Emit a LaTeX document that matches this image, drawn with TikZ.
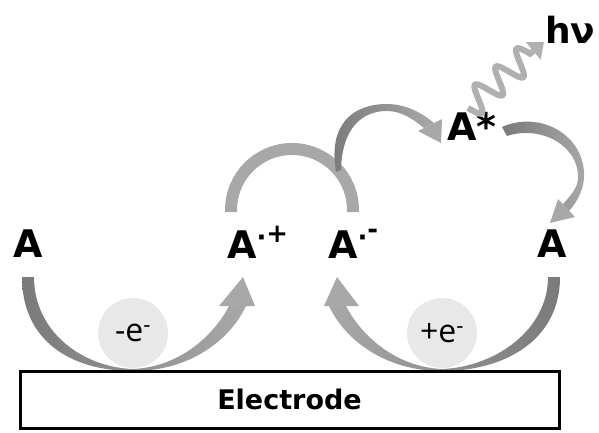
\documentclass[tikz,border=0pt]{standalone}
\usepackage{fontspec}
\setmainfont{DejaVu Sans}
\newfontfamily\chargefont{Open Sans}
\usetikzlibrary{arrows.meta,shadows}
\definecolor{darkflow}{HTML}{7A7A7A}
\definecolor{lightflow}{HTML}{A8A8A8}
\definecolor{wavegray}{HTML}{B0B0B0}
\definecolor{disc}{HTML}{E8E8E8}
% radical charge: centred dot and sign
\newcommand{\radsup}[2]{\raisebox{12pt}{\fontsize{26}{26}\selectfont\textbf{·\raisebox{#1}{#2}}}}
\begin{document}
\begin{tikzpicture}[x=1pt,y=-1pt,
% common options for the species labels:
species/.style = {font=\bfseries\fontsize{38}{38}\selectfont, inner sep=0, anchor=base},
% common options for the electron discs:
electron/.style = {circle, fill=disc, minimum size=70pt, inner sep=0,
            font=\chargefont\fontsize{32}{32}\selectfont}]
\useasboundingbox (0,0) rectangle (599,432);
\node[electron] (lose) at (133,333) {-e\textsuperscript{-}};
\node[electron] (gain) at (442,333) {+e\textsuperscript{-}};
\node[species] (A0) at (28,257) {A};
\node[species,anchor=base west] (A1) at (227,258) {A\radsup{4pt}{+}};
\node[species,anchor=base west] (A2) at (328,258) {A\radsup{8pt}{-}};
\node[species] (A3) at (552,257) {A};
\node[species,anchor=base west] (A4) at (447,140) {A*};
\node[species,anchor=base west,font=\bfseries\fontsize{36}{36}\selectfont] (hv) at (545,43) {hν};
\coordinate (wv1) at (544,42);
% oxidation: A -> A.+
\shade[left color=darkflow, right color=lightflow]
  (22,277) .. controls (22,340) and (70,371) .. (133,371)
  .. controls (190,371) and (230,340) .. (246,306)
  -- (229,306) .. controls (214,335) and (180,367) .. (133,369)
  .. controls (80,367) and (34,330) .. (34,277) -- cycle;
\fill[lightflow] (243,277) -- (219,306) -- (255,306) -- cycle;
% reduction: A -> A.-
\shade[left color=lightflow, right color=darkflow]
  (560,277) .. controls (560,340) and (505,371) .. (442,371)
  .. controls (385,371) and (345,340) .. (329,306)
  -- (346,306) .. controls (361,335) and (395,367) .. (442,369)
  .. controls (495,367) and (548,330) .. (548,277) -- cycle;
\fill[lightflow] (337,277) -- (324,306) -- (359,306) -- cycle;
% annihilation
\draw[line width=12pt, lightflow] (231,212) -- (231,210) arc[start angle=180, end angle=360, radius=61] -- (353,212);
\shade[left color=darkflow, right color=lightflow]
  (336,172) .. controls (328,125) and (352,104) .. (387,104)
  .. controls (406,104) and (422,113) .. (434,123)
  -- (424,128) .. controls (414,120) and (402,111) .. (387,111)
  .. controls (362,111) and (342,128) .. (341,170) -- cycle;
\fill[lightflow] (441,143) -- (418,131) -- (442,119) -- cycle;
% relaxation: A* -> A
\shade[left color=darkflow, right color=lightflow]
  (502,127) .. controls (540,110) and (586,135) .. (584,178)
  .. controls (583,192) and (576,203) .. (569,211)
  -- (563,204) .. controls (570,196) and (578,188) .. (578,178)
  .. controls (579,145) and (540,125) .. (507,136) -- cycle;
\fill[lightflow] (550,223) -- (558,199) -- (575,217) -- cycle;
% emission
\draw[line width=6pt, wavegray, -{Triangle[length=14pt,width=22pt]}]
  plot[domain=0:0.82, samples=90, smooth]
  ({468+76*\x+13*0.656*sin(3*360*\x/0.82)}, {108-66*\x+13*0.755*sin(3*360*\x/0.82)}) -- (wv1);
\node[draw, fill=white, line width=3pt, minimum width=539pt, minimum height=57pt,
  font=\bfseries\fontsize{27}{27}\selectfont,
  drop shadow={shadow xshift=2pt, shadow yshift=-2pt, fill=black!40}] (elec) at (289.5,399.5) {Electrode};
\end{tikzpicture}
\end{document}
